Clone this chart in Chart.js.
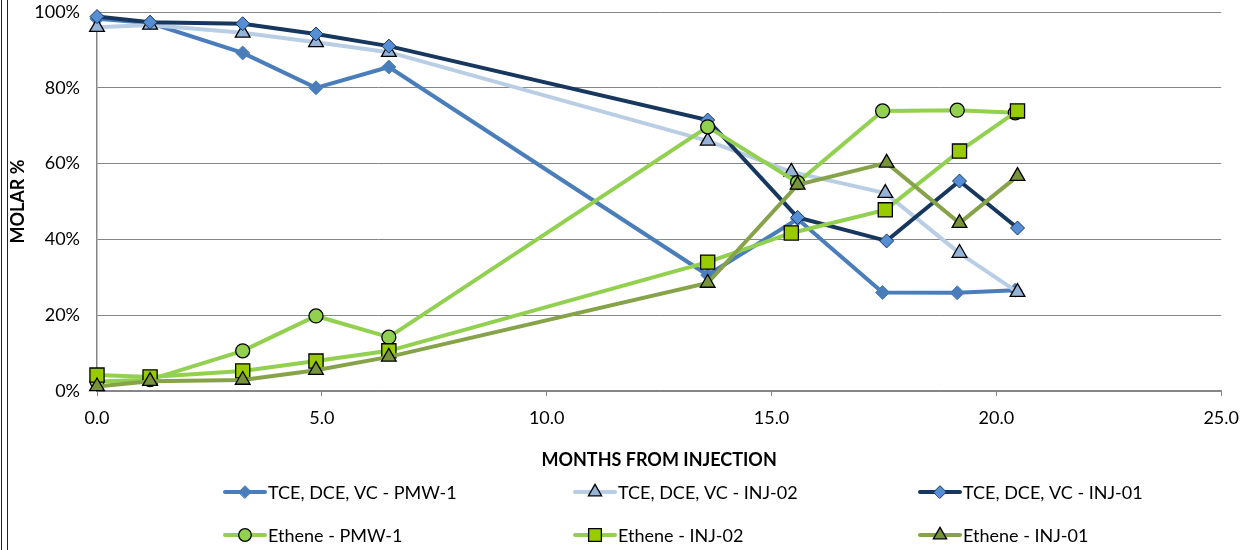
<!DOCTYPE html>
<html>
<head>
<meta charset="utf-8">
<title>Molar % vs months from injection</title>
<script src="https://cdn.jsdelivr.net/npm/chart.js@4.4.1/dist/chart.umd.min.js"></script>
<style>
    html, body { margin: 0; padding: 0; background: #ffffff; }
    #wrap { width: 1250px; height: 550px; position: relative; }
</style>
</head>
<body>
<div id="wrap"><canvas id="molarChart" width="1250" height="550"></canvas></div>
<script>
// ── Data ──────────────────────────────────────────────────────
const monthsPMW1  = [0, 1.18, 3.24, 4.87, 6.49, 13.58, 15.58, 17.47, 19.13, 20.42];
const monthsINJ02 = [0, 1.18, 3.24, 4.87, 6.49, 13.58, 15.44, 17.53, 19.18, 20.47];
const monthsINJ01 = [0, 1.18, 3.24, 4.87, 6.49, 13.58, 15.58, 17.56, 19.18, 20.47];

const tcePMW1  = [98.2, 97.1, 89.2, 80.0, 85.5, 30.6, 45.4, 26.0, 25.9, 26.6];
const tceINJ02 = [96.0, 96.6, 94.5, 92.0, 89.4, 66.0, 57.8, 52.2, 36.4, 26.1];
const tceINJ01 = [98.8, 97.3, 96.9, 94.2, 91.0, 71.5, 45.8, 39.6, 55.4, 43.0];

const ethenePMW1  = [2.5, 3.0, 10.6, 19.8, 14.2, 69.7, 55.0, 73.9, 74.1, 73.4];
const etheneINJ02 = [4.2, 3.7, 5.3, 7.9, 10.6, 34.0, 41.7, 47.8, 63.3, 73.9];
const etheneINJ01 = [1.2, 2.6, 2.9, 5.5, 9.0, 28.5, 54.4, 60.2, 44.3, 56.7];

const seriesLabels = [
    'TCE, DCE, VC - PMW-1',
    'TCE, DCE, VC - INJ-02',
    'TCE, DCE, VC - INJ-01',
    'Ethene - PMW-1',
    'Ethene - INJ-02',
    'Ethene - INJ-01',
];

const xTitle = 'MONTHS FROM INJECTION';
const yTitle = 'MOLAR %';

// ── Styles ────────────────────────────────────────────────────
const FONT = 'Lato, "Open Sans", sans-serif';
const GRID = '#868686';

function pairs(xs, ys) {
    return xs.map(function (x, i) { return { x: x, y: ys[i] }; });
}

function series(label, xs, ys, line, style, radius, fill, border, bw) {
    return {
        label: label,
        data: pairs(xs, ys),
        borderColor: line,
        borderWidth: 4,
        pointStyle: style,
        pointRadius: radius,
        pointBackgroundColor: fill,
        pointBorderColor: border,
        pointBorderWidth: bw,
        tension: 0,
        clip: false,
    };
}

const datasets = [
    series(seriesLabels[0], monthsPMW1,  tcePMW1,     '#4A7EBB', 'rectRot',  7,   '#4A7EBB', '#4A7EBB', 1),
    series(seriesLabels[1], monthsINJ02, tceINJ02,    '#B9CDE5', 'triangle', 8.5, '#95B3D7', '#000000', 1.3),
    series(seriesLabels[2], monthsINJ01, tceINJ01,    '#17375E', 'rectRot',  7,   '#558ED5', '#17375E', 1),
    series(seriesLabels[3], monthsPMW1,  ethenePMW1,  '#92D050', 'circle',   7,   '#92D050', '#000000', 1.3),
    series(seriesLabels[4], monthsINJ02, etheneINJ02, '#92D050', 'rect',     10,  '#99CC00', '#000000', 1.3),
    series(seriesLabels[5], monthsINJ01, etheneINJ01, '#86A34A', 'triangle', 8.5, '#77933C', '#000000', 1.3),
];
// later series sit on top, as in the original
datasets.forEach(function (d, i) { d.order = datasets.length - i; });

// legend: 3 columns x 2 rows under the x title
const legendCols = [225, 575, 920];
const legendRows = [492, 535];

const gridLegend = {
    id: 'gridLegend',
    afterDraw: function (chart) {
        const ctx = chart.ctx;
        ctx.save();
        chart.data.datasets.forEach(function (ds, i) {
            const x0 = legendCols[i % 3];
            const y = legendRows[Math.floor(i / 3)];
            ctx.strokeStyle = ds.borderColor;
            ctx.lineWidth = 4;
            ctx.lineCap = 'round';
            ctx.beginPath();
            ctx.moveTo(x0, y);
            ctx.lineTo(x0 + 40, y);
            ctx.stroke();
            ctx.fillStyle = ds.pointBackgroundColor;
            ctx.strokeStyle = ds.pointBorderColor;
            ctx.lineWidth = ds.pointBorderWidth;
            Chart.helpers.drawPoint(ctx, {
                pointStyle: ds.pointStyle,
                radius: ds.pointRadius * 0.9,
                borderWidth: ds.pointBorderWidth,
                rotation: 0,
            }, x0 + 20, y);
            ctx.fillStyle = '#000000';
            ctx.font = '18px ' + FONT;
            ctx.textAlign = 'left';
            ctx.textBaseline = 'middle';
            ctx.fillText(ds.label, x0 + 43, y + 1);
        });
        // chart frame lines on the left edge
        ctx.strokeStyle = '#222222';
        ctx.lineWidth = 1;
        ctx.lineCap = 'butt';
        ctx.beginPath();
        ctx.moveTo(1.5, 0); ctx.lineTo(1.5, 550);
        ctx.moveTo(7.5, 0); ctx.lineTo(7.5, 550);
        ctx.stroke();
        ctx.restore();
    },
};

new Chart(document.getElementById('molarChart'), {
    type: 'line',
    data: { datasets: datasets },
    options: {
        responsive: false,
        animation: false,
        devicePixelRatio: 1,
        layout: { padding: { left: 0, right: 28, top: 12, bottom: 79 } },
        plugins: {
            legend: { display: false },
            tooltip: { enabled: false },
        },
        scales: {
            x: {
                type: 'linear',
                min: 0,
                max: 25,
                afterFit: function (scale) { scale.height = 80; },
                ticks: {
                    stepSize: 5,
                    color: '#000000',
                    font: { family: FONT, size: 18 },
                    padding: 11,
                    maxRotation: 0,
                    callback: function (v) { return Number(v).toFixed(1); },
                },
                grid: {
                    drawOnChartArea: false,
                    drawTicks: true,
                    tickLength: 5,
                    color: GRID,
                },
                border: { display: true, color: GRID, width: 1.5 },
                title: {
                    display: true,
                    text: xTitle,
                    color: '#000000',
                    font: { family: FONT, size: 18, weight: 'bold' },
                    padding: { top: 0, bottom: 0 },
                },
            },
            y: {
                min: 0,
                max: 100,
                afterFit: function (scale) { scale.width = 97; },
                ticks: {
                    stepSize: 20,
                    color: '#000000',
                    font: { family: FONT, size: 18 },
                    padding: 0,
                    callback: function (v) { return v + '%'; },
                },
                // invisible tick marks push the labels away from the axis
                grid: {
                    color: GRID,
                    lineWidth: 1,
                    drawTicks: true,
                    tickLength: 17,
                    tickColor: 'rgba(0,0,0,0)',
                },
                border: { display: true, color: GRID, width: 1.5 },
                title: {
                    display: true,
                    text: yTitle,
                    color: '#000000',
                    font: { family: FONT, size: 18, weight: 'bold' },
                    padding: { top: 7, bottom: 0 },
                },
            },
        },
    },
    plugins: [gridLegend],
});
</script>
</body>
</html>
